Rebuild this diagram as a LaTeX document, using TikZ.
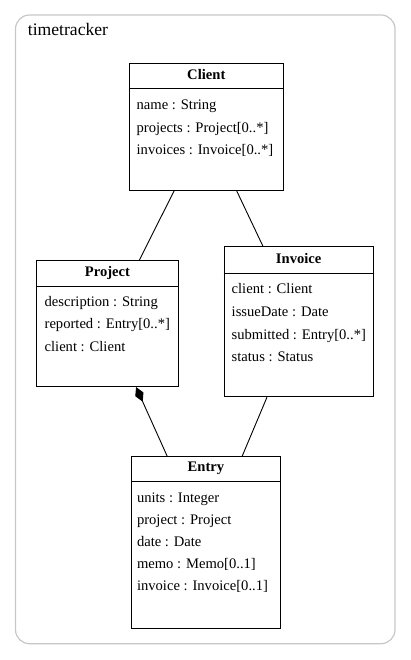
\documentclass[tikz,border=0pt]{standalone}
\usepackage{fontspec}
\setmainfont{Liberation Serif}
\usetikzlibrary{arrows.meta}
\begin{document}
\begin{tikzpicture}[x=1pt,y=1pt,
  classbox/.style={draw=black, line width=1.1pt, inner sep=0pt, fill=white},
  ctitle/.style={anchor=base, inner sep=0pt, font=\fontsize{14.6}{17}\selectfont\bfseries},
  attr/.style={anchor=base west, inner sep=0pt, font=\fontsize{14.6}{17}\selectfont},
  divider/.style={line width=1.1pt},
  assoc/.style={line width=0.9pt},
  pkg/.style={draw=black!22, line width=1.2pt, rounded corners=14pt}]
\useasboundingbox (0,0) rectangle (411,-660);
% package frame
\draw[pkg] (15.5,-15) rectangle (395,-643.7);
\node[anchor=base west, inner sep=0pt, font=\fontsize{17.6}{20}\selectfont] (pkgname) at (27.7,-35.7) {timetracker};

% Client
\node[classbox, minimum width=154pt, minimum height=127pt] (client) at (206.3,-126.8) {};
\draw[divider] ([yshift=-26pt]client.north west) -- ([yshift=-26pt]client.north east);
\node[ctitle] (clientT) at ([yshift=-16.3pt]client.north) {Client};
\node[attr] (client1) at ([xshift=7.7pt,yshift=-47.2pt]client.north west) {name : String};
\node[attr] (client2) at ([xshift=7.7pt,yshift=-69.6pt]client.north west) {projects : Project[0..*]};
\node[attr] (client3) at ([xshift=7.7pt,yshift=-92pt]client.north west) {invoices : Invoice[0..*]};

% Project
\node[classbox, minimum width=141.6pt, minimum height=126pt] (project) at (107.5,-323.5) {};
\draw[divider] ([yshift=-26.5pt]project.north west) -- ([yshift=-26.5pt]project.north east);
\node[ctitle] (projectT) at ([yshift=-16.5pt]project.north) {Project};
\node[attr] (project1) at ([xshift=8.3pt,yshift=-46.2pt]project.north west) {description : String};
\node[attr] (project2) at ([xshift=8.3pt,yshift=-68.8pt]project.north west) {reported : Entry[0..*]};
\node[attr] (project3) at ([xshift=8.3pt,yshift=-91.2pt]project.north west) {client : Client};

% Invoice
\node[classbox, minimum width=149.3pt, minimum height=150pt] (invoice) at (298.7,-321.7) {};
\draw[divider] ([yshift=-27pt]invoice.north west) -- ([yshift=-27pt]invoice.north east);
\node[ctitle] (invoiceT) at ([yshift=-17pt]invoice.north) {Invoice};
\node[attr] (invoice1) at ([xshift=8pt,yshift=-47.6pt]invoice.north west) {client : Client};
\node[attr] (invoice2) at ([xshift=8pt,yshift=-70pt]invoice.north west) {issueDate : Date};
\node[attr] (invoice3) at ([xshift=8pt,yshift=-93.3pt]invoice.north west) {submitted : Entry[0..*]};
\node[attr] (invoice4) at ([xshift=8pt,yshift=-115.6pt]invoice.north west) {status : Status};

% Entry
\node[classbox, minimum width=148.3pt, minimum height=172pt] (entry) at (205.9,-542.7) {};
\draw[divider] ([yshift=-25.5pt]entry.north west) -- ([yshift=-25.5pt]entry.north east);
\node[ctitle] (entryT) at ([yshift=-15.5pt]entry.north) {Entry};
\node[attr] (entry1) at ([xshift=5.6pt,yshift=-46.6pt]entry.north west) {units : Integer};
\node[attr] (entry2) at ([xshift=5.6pt,yshift=-68.6pt]entry.north west) {project : Project};
\node[attr] (entry3) at ([xshift=5.6pt,yshift=-90.4pt]entry.north west) {date : Date};
\node[attr] (entry4) at ([xshift=5.6pt,yshift=-112.6pt]entry.north west) {memo : Memo[0..1]};
\node[attr] (entry5) at ([xshift=5.6pt,yshift=-134.8pt]entry.north west) {invoice : Invoice[0..1]};

% associations
\draw[assoc] (client) -- (project);
\draw[assoc] (client) -- (invoice);
\draw[assoc, {Diamond[length=16pt,width=9pt]}-] (project) -- (entry);
\draw[assoc] (invoice) -- (entry);
\end{tikzpicture}
\end{document}
